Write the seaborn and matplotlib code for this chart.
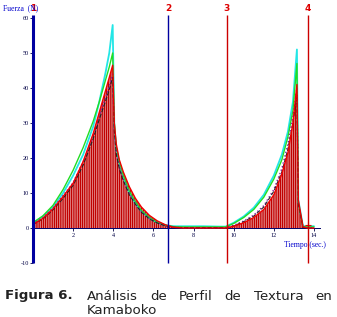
import numpy as np
import pandas as pd
import seaborn as sns
import matplotlib.pyplot as plt

# time (s) for the two compression cycles and the flat part between them
t_cycle1 = [0.0, 0.5, 1.0, 1.5, 2.0, 2.5, 3.0, 3.3, 3.6, 3.8, 3.97, 4.05, 4.15, 4.3, 4.5, 4.8, 5.1, 5.4, 5.8, 6.2, 6.6, 7.0]
t_flat = [7.5, 8.5, 9.3]
t_cycle2 = [9.6, 10.0, 10.5, 11.0, 11.5, 12.0, 12.4, 12.7, 12.95, 13.15, 13.22, 13.45, 13.7, 14.0]

# force (N) per replicate
cyan_1 = [1.5, 3.3, 6.0, 10.0, 15.0, 21.0, 29.0, 36.0, 44.0, 50.0, 58.0, 30.0, 22.5, 18.5, 14.5, 10.0, 7.0, 4.8, 2.8, 1.5, 0.8, 0.5]
green_1 = [1.5, 3.5, 6.5, 11.0, 16.5, 23.0, 30.5, 36.0, 42.0, 46.0, 50.0, 30.0, 23.0, 19.0, 15.0, 10.5, 7.5, 5.0, 3.0, 1.6, 0.8, 0.4]
red_1 = [1.0, 2.8, 5.5, 9.0, 12.8, 19.0, 27.0, 33.0, 39.0, 43.0, 46.5, 30.0, 24.0, 19.5, 16.0, 11.8, 8.5, 6.0, 3.6, 2.0, 0.9, 0.2]
black_1 = [1.0, 2.6, 5.2, 8.5, 12.2, 18.0, 25.5, 31.0, 36.0, 39.5, 43.0, 28.0, 21.0, 17.0, 13.5, 9.5, 6.8, 4.5, 2.6, 1.4, 0.6, 0.2]
purple_1 = [1.2, 3.0, 5.8, 9.3, 13.0, 19.0, 26.0, 32.0, 37.0, 40.5, 44.0, 28.0, 21.5, 17.5, 14.0, 10.0, 7.0, 4.7, 2.8, 1.5, 0.7, 0.3]

cyan_flat = [0.5, 0.5, 0.4]
green_flat = [0.3, 0.3, 0.3]
red_flat = [0.0, 0.0, 0.0]
black_flat = [0.1, 0.1, 0.1]
purple_flat = [0.1, 0.1, 0.1]

cyan_2 = [0.4, 1.5, 3.3, 5.8, 9.5, 15.0, 21.0, 27.5, 36.0, 51.0, 8.0, 0.5, 0.6, 0.5]
green_2 = [0.3, 1.3, 3.0, 5.3, 8.8, 14.0, 19.5, 26.0, 33.5, 47.0, 7.0, 0.4, 0.3, 0.3]
red_2 = [0.0, 0.5, 1.5, 3.0, 5.3, 9.5, 15.5, 21.5, 30.0, 41.0, 8.0, 0.3, 0.0, 0.0]
black_2 = [0.0, 0.6, 1.8, 3.4, 6.0, 10.5, 16.0, 22.5, 30.0, 38.0, 7.0, 0.2, 0.0, 0.0]
purple_2 = [0.1, 0.8, 2.0, 3.7, 6.4, 11.0, 17.0, 24.0, 32.0, 40.0, 7.0, 0.3, 0.1, 0.0]

# marker lines 1-4 (s)
marks = [0.0, 6.75, 9.65, 13.7]
mark_labels = ['1', '2', '3', '4']
mark_colors = ['#0000A0', '#0000A0', '#CC0000', '#CC0000']

x_ticks = [0, 2, 4, 6, 8, 10, 12, 14]
y_ticks = [-10, 0, 10, 20, 30, 40, 50, 60]

caption_words = ['Análisis', 'de', 'Perfil', 'de', 'Textura', 'en']

sns.set_style('white')
plt.rcParams['hatch.linewidth'] = 1.0

t_all = t_cycle1 + t_flat + t_cycle2
curves = {
    'cyan': (cyan_1 + cyan_flat + cyan_2, '#22E6E6', '-', 1.3),
    'green': (green_1 + green_flat + green_2, '#22DD22', '-', 1.0),
    'purple': (purple_1 + purple_flat + purple_2, '#8822AA', ':', 1.0),
    'black': (black_1 + black_flat + black_2, '#222222', '--', 0.8),
    'red': (red_1 + red_flat + red_2, '#EE0000', '-', 1.0),
}

fig = plt.figure(figsize=(3.37, 3.17), dpi=100)
fig.patch.set_facecolor('white')
ax = fig.add_axes([33 / 337, 54 / 317, 287 / 337, 248.5 / 317])

# red hatched bars under the red replicate
red_all = np.array(curves['red'][0])
ax.fill_between(t_all, 0, red_all, facecolor='white', edgecolor='#C00000',
                hatch='|' * 9, linewidth=0, zorder=1)

for name, (vals, col, ls, lw) in curves.items():
    df = pd.DataFrame({'t': t_all, 'F': vals})
    sns.lineplot(data=df, x='t', y='F', color=col, linestyle=ls, linewidth=lw,
                 estimator=None, sort=False, ax=ax, zorder=3)

# small end marker
ax.plot([13.72], [1.0], marker='+', color='#EE0000', markersize=4, mew=0.8, zorder=4)

ax.set_xlim(0, 14.3)
ax.set_ylim(-10, 61)

# vertical marker lines with labels on top
for xm, lab, col in zip(marks, mark_labels, mark_colors):
    lw = 2.2 if xm == 0 else 1.0
    ax.vlines(xm, -10, 61, color=col, linewidth=lw, zorder=5, clip_on=False)
    ax.text(xm, 62.8, lab, color='#DD0000', fontsize=6.5, fontweight='bold',
            ha='center', va='center', zorder=6)

for s in ['top', 'right', 'left']:
    ax.spines[s].set_visible(False)
ax.spines['bottom'].set_position(('data', 0))
ax.spines['bottom'].set_color('#000066')
ax.spines['bottom'].set_linewidth(0.7)

ax.set_xticks(x_ticks)
ax.set_yticks(y_ticks)
ax.set_xticklabels([str(v) for v in x_ticks], fontsize=4.5, family='Liberation Serif')
ax.set_yticklabels([str(v) for v in y_ticks], fontsize=4.5, family='Liberation Serif')
ax.tick_params(axis='x', direction='out', length=2, width=0.6, pad=1.5, colors='#000044')
ax.tick_params(axis='y', direction='out', length=2, width=0.6, pad=1, colors='#000044')
ax.tick_params(left=True, bottom=True)
ax.set_xlabel('')
ax.set_ylabel('')

fig.text(3 / 337, 1 - 8 / 317, 'Fuerza  (N)', color='#0000CC', fontsize=5.5,
         family='Liberation Serif', ha='left', va='center')
fig.text(284 / 337, 1 - 245 / 317, 'Tiempo (sec.)', color='#0000CC', fontsize=5.5,
         family='Liberation Serif', ha='left', va='center')

# caption, first line justified between x=87 and x=332 px
cap_size = 9.6
fig.text(5 / 337, 1 - 296 / 317, 'Figura 6.', fontsize=cap_size, fontweight='bold',
         color='#222222', ha='left', va='center')
renderer = fig.canvas.get_renderer()
word_texts = [fig.text(0, 1 - 296 / 317, w, fontsize=cap_size, color='#222222',
                       ha='left', va='center') for w in caption_words]
widths = [t.get_window_extent(renderer).width for t in word_texts]
gap = (332 - 87 - sum(widths)) / (len(widths) - 1)
x = 87
for t, w in zip(word_texts, widths):
    t.set_x(x / 337)
    x += w + gap
fig.text(87 / 337, 1 - 311 / 317, 'Kamaboko', fontsize=cap_size,
         color='#222222', ha='left', va='center')

fig.savefig('out.png', dpi=100)
